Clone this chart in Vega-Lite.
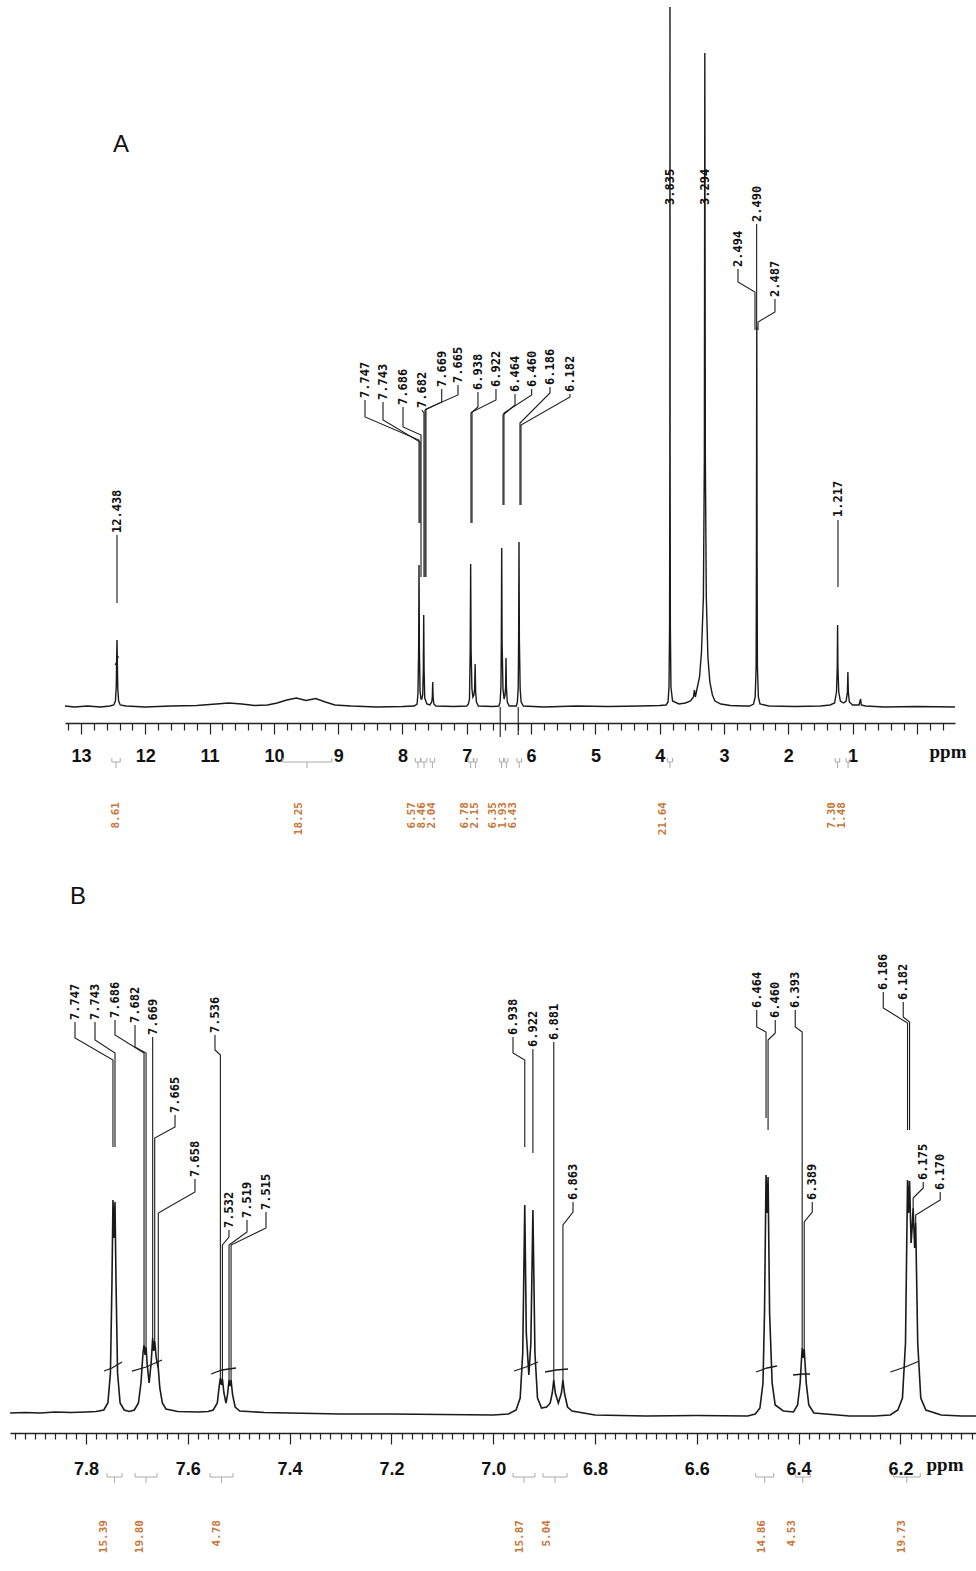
{
"$schema": "https://vega.github.io/schema/vega-lite/v6.json",
"padding": 0,
"spacing": 5,
"background": "white",
"config": {"view": {"stroke": null}},
"resolve": {"scale": {"x": "independent", "y": "independent"}},
"datasets": {
"specA": [
{"ppm":13.249,"v":1},{"ppm":13.1,"v":0},{"ppm":12.9,"v":1},{"ppm":12.7,"v":0},{"ppm":12.55,"v":1},{"ppm":12.49,"v":2},{"ppm":12.465,"v":6},{"ppm":12.452,"v":20},{"ppm":12.445,"v":50},{"ppm":12.44,"v":67},{"ppm":12.435,"v":45},{"ppm":12.428,"v":18},{"ppm":12.415,"v":6},{"ppm":12.39,"v":2},{"ppm":12.3,"v":1},{"ppm":12.0,"v":0},{"ppm":11.6,"v":1},{"ppm":11.2,"v":1.5},{"ppm":10.9,"v":3},{"ppm":10.7,"v":4},{"ppm":10.5,"v":3},{"ppm":10.3,"v":1.5},{"ppm":10.1,"v":2},{"ppm":9.95,"v":4},{"ppm":9.8,"v":7},{"ppm":9.65,"v":9},{"ppm":9.5,"v":6.5},{"ppm":9.35,"v":8.5},{"ppm":9.2,"v":5},{"ppm":9.05,"v":2},{"ppm":8.8,"v":1},{"ppm":8.4,"v":0},{"ppm":8.0,"v":0.5},{"ppm":7.82,"v":1},{"ppm":7.773,"v":3},{"ppm":7.759,"v":14},{"ppm":7.749,"v":57},{"ppm":7.743,"v":142},{"ppm":7.737,"v":57},{"ppm":7.727,"v":16},{"ppm":7.712,"v":8},{"ppm":7.7,"v":8},{"ppm":7.686,"v":12},{"ppm":7.676,"v":37},{"ppm":7.67,"v":92},{"ppm":7.664,"v":37},{"ppm":7.654,"v":9},{"ppm":7.62,"v":3},{"ppm":7.575,"v":2},{"ppm":7.545,"v":5},{"ppm":7.536,"v":10},{"ppm":7.53,"v":25},{"ppm":7.524,"v":10},{"ppm":7.512,"v":3},{"ppm":7.48,"v":1},{"ppm":7.2,"v":0.5},{"ppm":7.0,"v":1},{"ppm":6.975,"v":3},{"ppm":6.958,"v":8},{"ppm":6.947,"v":57},{"ppm":6.94,"v":143},{"ppm":6.933,"v":57},{"ppm":6.92,"v":18},{"ppm":6.905,"v":10},{"ppm":6.89,"v":12},{"ppm":6.878,"v":18},{"ppm":6.87,"v":43},{"ppm":6.863,"v":16},{"ppm":6.85,"v":5},{"ppm":6.82,"v":1},{"ppm":6.6,"v":0.5},{"ppm":6.5,"v":1},{"ppm":6.482,"v":5},{"ppm":6.469,"v":20},{"ppm":6.463,"v":64},{"ppm":6.457,"v":159},{"ppm":6.451,"v":64},{"ppm":6.437,"v":18},{"ppm":6.42,"v":8},{"ppm":6.405,"v":12},{"ppm":6.396,"v":20},{"ppm":6.39,"v":49},{"ppm":6.384,"v":20},{"ppm":6.37,"v":5},{"ppm":6.34,"v":1},{"ppm":6.23,"v":1},{"ppm":6.213,"v":5},{"ppm":6.2,"v":20},{"ppm":6.194,"v":66},{"ppm":6.188,"v":165},{"ppm":6.182,"v":66},{"ppm":6.17,"v":18},{"ppm":6.155,"v":5},{"ppm":6.12,"v":1},{"ppm":5.8,"v":0},{"ppm":5.3,"v":1},{"ppm":4.8,"v":0.5},{"ppm":4.3,"v":1},{"ppm":4.0,"v":1.5},{"ppm":3.9,"v":2},{"ppm":3.87,"v":5},{"ppm":3.855,"v":20},{"ppm":3.846,"v":80},{"ppm":3.842,"v":250},{"ppm":3.84,"v":700},{"ppm":3.838,"v":250},{"ppm":3.834,"v":80},{"ppm":3.825,"v":20},{"ppm":3.8,"v":6},{"ppm":3.7,"v":3},{"ppm":3.6,"v":4},{"ppm":3.52,"v":6},{"ppm":3.475,"v":10},{"ppm":3.46,"v":17},{"ppm":3.445,"v":10},{"ppm":3.42,"v":18},{"ppm":3.38,"v":30},{"ppm":3.35,"v":55},{"ppm":3.32,"v":110},{"ppm":3.305,"v":250},{"ppm":3.298,"v":654},{"ppm":3.29,"v":250},{"ppm":3.275,"v":110},{"ppm":3.25,"v":50},{"ppm":3.22,"v":25},{"ppm":3.18,"v":12},{"ppm":3.14,"v":6},{"ppm":3.05,"v":3},{"ppm":2.9,"v":1.5},{"ppm":2.7,"v":1},{"ppm":2.6,"v":1},{"ppm":2.54,"v":3},{"ppm":2.515,"v":10},{"ppm":2.5,"v":40},{"ppm":2.495,"v":150},{"ppm":2.49,"v":380},{"ppm":2.485,"v":150},{"ppm":2.48,"v":40},{"ppm":2.465,"v":10},{"ppm":2.44,"v":3},{"ppm":2.3,"v":1},{"ppm":1.9,"v":0.5},{"ppm":1.5,"v":1},{"ppm":1.35,"v":2},{"ppm":1.28,"v":4},{"ppm":1.25,"v":15},{"ppm":1.238,"v":40},{"ppm":1.233,"v":82},{"ppm":1.228,"v":40},{"ppm":1.215,"v":15},{"ppm":1.19,"v":6},{"ppm":1.14,"v":4},{"ppm":1.1,"v":6},{"ppm":1.08,"v":15},{"ppm":1.073,"v":35},{"ppm":1.066,"v":15},{"ppm":1.05,"v":5},{"ppm":1.0,"v":2},{"ppm":0.9,"v":2},{"ppm":0.875,"v":8},{"ppm":0.865,"v":2},{"ppm":0.8,"v":1},{"ppm":0.5,"v":0},{"ppm":0.0,"v":0.5},{"ppm":-0.593,"v":0}
],
"specB": [
{"ppm":7.949,"v":0},{"ppm":7.92,"v":0.5},{"ppm":7.89,"v":0},{"ppm":7.86,"v":1},{"ppm":7.83,"v":0.5},{"ppm":7.8,"v":1},{"ppm":7.78,"v":1.5},{"ppm":7.765,"v":3},{"ppm":7.757,"v":10},{"ppm":7.752,"v":40},{"ppm":7.749,"v":130},{"ppm":7.747,"v":213},{"ppm":7.745,"v":175},{"ppm":7.743,"v":211},{"ppm":7.741,"v":130},{"ppm":7.738,"v":40},{"ppm":7.733,"v":10},{"ppm":7.725,"v":3},{"ppm":7.715,"v":1.5},{"ppm":7.705,"v":3},{"ppm":7.697,"v":10},{"ppm":7.692,"v":30},{"ppm":7.688,"v":60},{"ppm":7.686,"v":68},{"ppm":7.684,"v":58},{"ppm":7.682,"v":66},{"ppm":7.68,"v":50},{"ppm":7.676,"v":30},{"ppm":7.672,"v":50},{"ppm":7.669,"v":75},{"ppm":7.667,"v":62},{"ppm":7.665,"v":72},{"ppm":7.662,"v":55},{"ppm":7.658,"v":45},{"ppm":7.655,"v":25},{"ppm":7.65,"v":10},{"ppm":7.643,"v":4},{"ppm":7.62,"v":1.5},{"ppm":7.58,"v":1},{"ppm":7.56,"v":1.5},{"ppm":7.55,"v":3},{"ppm":7.542,"v":10},{"ppm":7.538,"v":28},{"ppm":7.536,"v":35},{"ppm":7.534,"v":28},{"ppm":7.532,"v":34},{"ppm":7.529,"v":20},{"ppm":7.525,"v":10},{"ppm":7.522,"v":18},{"ppm":7.519,"v":33},{"ppm":7.517,"v":27},{"ppm":7.515,"v":33},{"ppm":7.512,"v":18},{"ppm":7.507,"v":6},{"ppm":7.498,"v":2},{"ppm":7.45,"v":0.5},{"ppm":7.4,"v":0},{"ppm":7.3,"v":-1},{"ppm":7.2,"v":-1},{"ppm":7.1,"v":-1.5},{"ppm":7.0,"v":-2},{"ppm":6.97,"v":-1},{"ppm":6.955,"v":3},{"ppm":6.947,"v":15},{"ppm":6.942,"v":60},{"ppm":6.938,"v":208},{"ppm":6.935,"v":80},{"ppm":6.93,"v":38},{"ppm":6.926,"v":70},{"ppm":6.922,"v":203},{"ppm":6.918,"v":60},{"ppm":6.913,"v":15},{"ppm":6.905,"v":5},{"ppm":6.895,"v":6},{"ppm":6.888,"v":10},{"ppm":6.884,"v":20},{"ppm":6.881,"v":33},{"ppm":6.878,"v":20},{"ppm":6.872,"v":10},{"ppm":6.866,"v":20},{"ppm":6.863,"v":33},{"ppm":6.86,"v":20},{"ppm":6.854,"v":6},{"ppm":6.845,"v":2},{"ppm":6.8,"v":-2},{"ppm":6.7,"v":-3},{"ppm":6.6,"v":-2.5},{"ppm":6.5,"v":-3},{"ppm":6.485,"v":-1},{"ppm":6.476,"v":5},{"ppm":6.47,"v":30},{"ppm":6.467,"v":100},{"ppm":6.464,"v":238},{"ppm":6.462,"v":200},{"ppm":6.46,"v":236},{"ppm":6.457,"v":100},{"ppm":6.452,"v":30},{"ppm":6.446,"v":8},{"ppm":6.43,"v":2},{"ppm":6.41,"v":1},{"ppm":6.402,"v":8},{"ppm":6.397,"v":30},{"ppm":6.393,"v":65},{"ppm":6.391,"v":55},{"ppm":6.389,"v":64},{"ppm":6.385,"v":30},{"ppm":6.38,"v":8},{"ppm":6.37,"v":0},{"ppm":6.3,"v":-3},{"ppm":6.25,"v":-3},{"ppm":6.22,"v":-2},{"ppm":6.205,"v":3},{"ppm":6.196,"v":15},{"ppm":6.19,"v":70},{"ppm":6.186,"v":233},{"ppm":6.184,"v":200},{"ppm":6.182,"v":232},{"ppm":6.179,"v":170},{"ppm":6.177,"v":185},{"ppm":6.175,"v":205},{"ppm":6.172,"v":165},{"ppm":6.17,"v":190},{"ppm":6.166,"v":70},{"ppm":6.16,"v":15},{"ppm":6.15,"v":3},{"ppm":6.12,"v":-2},{"ppm":6.08,"v":-3},{"ppm":6.0515,"v":-3}
],
"labA": [
{"ppm":12.44,"v":174,"t":"12.438"},{"ppm":8.583,"v":309,"t":"7.747"},{"ppm":8.303,"v":307,"t":"7.743"},{"ppm":7.992,"v":302,"t":"7.686"},{"ppm":7.701,"v":299,"t":"7.682"},{"ppm":7.39,"v":320,"t":"7.669"},{"ppm":7.137,"v":324,"t":"7.665"},{"ppm":6.826,"v":317,"t":"6.938"},{"ppm":6.546,"v":320,"t":"6.922"},{"ppm":6.25,"v":315,"t":"6.464"},{"ppm":5.991,"v":320,"t":"6.460"},{"ppm":5.706,"v":322,"t":"6.186"},{"ppm":5.395,"v":315,"t":"6.182"},{"ppm":3.84,"v":502,"t":"3.835"},{"ppm":3.295,"v":502,"t":"3.294"},{"ppm":2.492,"v":485,"t":"2.490"},{"ppm":2.782,"v":440,"t":"2.494"},{"ppm":2.207,"v":410,"t":"2.487"},{"ppm":1.227,"v":190,"t":"1.217"}
],
"leadA": [
{"id":"a1","k":1,"ppm":12.44,"v":172},{"id":"a1","k":2,"ppm":12.44,"v":104},
{"id":"a2","k":1,"ppm":8.583,"v":307},{"id":"a2","k":2,"ppm":8.583,"v":290},{"id":"a2","k":3,"ppm":7.743,"v":267},{"id":"a2","k":4,"ppm":7.743,"v":184},
{"id":"a3","k":1,"ppm":8.303,"v":305},{"id":"a3","k":2,"ppm":8.303,"v":287},{"id":"a3","k":3,"ppm":7.727,"v":265},{"id":"a3","k":4,"ppm":7.727,"v":184},
{"id":"a4","k":1,"ppm":7.992,"v":300},{"id":"a4","k":2,"ppm":7.992,"v":280},{"id":"a4","k":3,"ppm":7.712,"v":272},{"id":"a4","k":4,"ppm":7.712,"v":130},
{"id":"a5","k":1,"ppm":7.701,"v":297},{"id":"a5","k":2,"ppm":7.666,"v":294},{"id":"a5","k":3,"ppm":7.666,"v":130},
{"id":"a6","k":1,"ppm":7.39,"v":318},{"id":"a6","k":2,"ppm":7.39,"v":305},{"id":"a6","k":3,"ppm":7.65,"v":297},{"id":"a6","k":4,"ppm":7.65,"v":130},
{"id":"a7","k":1,"ppm":7.137,"v":322},{"id":"a7","k":2,"ppm":7.137,"v":312},{"id":"a7","k":3,"ppm":7.635,"v":298},{"id":"a7","k":4,"ppm":7.635,"v":130},
{"id":"a8","k":1,"ppm":6.826,"v":315},{"id":"a8","k":2,"ppm":6.826,"v":300},{"id":"a8","k":3,"ppm":6.935,"v":294},{"id":"a8","k":4,"ppm":6.935,"v":184},
{"id":"a9","k":1,"ppm":6.546,"v":318},{"id":"a9","k":2,"ppm":6.546,"v":307},{"id":"a9","k":3,"ppm":6.919,"v":295},{"id":"a9","k":4,"ppm":6.919,"v":184},
{"id":"a10","k":1,"ppm":6.25,"v":313},{"id":"a10","k":2,"ppm":6.25,"v":302},{"id":"a10","k":3,"ppm":6.437,"v":292},{"id":"a10","k":4,"ppm":6.437,"v":202},
{"id":"a11","k":1,"ppm":5.991,"v":318},{"id":"a11","k":2,"ppm":5.991,"v":312},{"id":"a11","k":3,"ppm":6.422,"v":294},{"id":"a11","k":4,"ppm":6.422,"v":202},
{"id":"a12","k":1,"ppm":5.706,"v":320},{"id":"a12","k":2,"ppm":5.706,"v":314},{"id":"a12","k":3,"ppm":6.173,"v":284},{"id":"a12","k":4,"ppm":6.173,"v":202},
{"id":"a13","k":1,"ppm":5.395,"v":313},{"id":"a13","k":2,"ppm":5.395,"v":310},{"id":"a13","k":3,"ppm":6.157,"v":282},{"id":"a13","k":4,"ppm":6.157,"v":202},
{"id":"a14","k":1,"ppm":2.492,"v":483},{"id":"a14","k":2,"ppm":2.492,"v":377},
{"id":"a15","k":1,"ppm":2.782,"v":438},{"id":"a15","k":2,"ppm":2.782,"v":425},{"id":"a15","k":3,"ppm":2.518,"v":415},{"id":"a15","k":4,"ppm":2.518,"v":377},
{"id":"a16","k":1,"ppm":2.207,"v":408},{"id":"a16","k":2,"ppm":2.207,"v":395},{"id":"a16","k":3,"ppm":2.471,"v":385},{"id":"a16","k":4,"ppm":2.471,"v":377},
{"id":"a17","k":1,"ppm":1.227,"v":187},{"id":"a17","k":2,"ppm":1.227,"v":120},
{"id":"a18","k":1,"ppm":6.48,"v":0},{"id":"a18","k":2,"ppm":6.48,"v":-30},
{"id":"a19","k":1,"ppm":6.2,"v":0},{"id":"a19","k":2,"ppm":6.2,"v":-28}
],
"curA": [
{"id":"c1","k":1,"ppm":12.47,"v":42},{"id":"c1","k":2,"ppm":12.445,"v":45},{"id":"c1","k":3,"ppm":12.42,"v":51}
],
"intA": [
{"ppm":12.456,"t":"8.61"},{"ppm":9.61,"t":"18.25"},{"ppm":7.852,"t":"6.57"},{"ppm":7.697,"t":"8.46"},{"ppm":7.541,"t":"2.04"},{"ppm":7.028,"t":"6.78"},{"ppm":6.872,"t":"2.15"},{"ppm":6.593,"t":"6.35"},{"ppm":6.437,"t":"1.93"},{"ppm":6.282,"t":"6.43"},{"ppm":3.949,"t":"21.64"},{"ppm":1.32,"t":"7.30"},{"ppm":1.165,"t":"1.48"}
],
"brA": [
{"from":12.52,"to":12.39,"mid":12.455},{"from":9.87,"to":9.1,"mid":9.485},{"from":7.8,"to":7.72,"mid":7.76},{"from":7.71,"to":7.62,"mid":7.665},{"from":7.57,"to":7.5,"mid":7.535},{"from":6.98,"to":6.9,"mid":6.94},{"from":6.89,"to":6.84,"mid":6.865},{"from":6.49,"to":6.43,"mid":6.46},{"from":6.41,"to":6.36,"mid":6.385},{"from":6.22,"to":6.15,"mid":6.185},{"from":3.88,"to":3.8,"mid":3.84},{"from":1.27,"to":1.2,"mid":1.235},{"from":1.1,"to":1.04,"mid":1.07}
],
"labB": [
{"ppm":7.8216,"v":393,"t":"7.747"},{"ppm":7.7823,"v":393,"t":"7.743"},{"ppm":7.743,"v":395,"t":"7.686"},{"ppm":7.7037,"v":390,"t":"7.682"},{"ppm":7.669,"v":378,"t":"7.669"},{"ppm":7.6251,"v":300,"t":"7.665"},{"ppm":7.5859,"v":236,"t":"7.658"},{"ppm":7.5466,"v":380,"t":"7.536"},{"ppm":7.5191,"v":185,"t":"7.532"},{"ppm":7.4837,"v":195,"t":"7.519"},{"ppm":7.4464,"v":203,"t":"7.515"},{"ppm":6.9611,"v":378,"t":"6.938"},{"ppm":6.922,"v":366,"t":"6.922"},{"ppm":6.881,"v":373,"t":"6.881"},{"ppm":6.8432,"v":213,"t":"6.863"},{"ppm":6.4823,"v":405,"t":"6.464"},{"ppm":6.4459,"v":395,"t":"6.460"},{"ppm":6.4066,"v":405,"t":"6.393"},{"ppm":6.3732,"v":213,"t":"6.389"},{"ppm":6.2337,"v":423,"t":"6.186"},{"ppm":6.1945,"v":413,"t":"6.182"},{"ppm":6.1552,"v":233,"t":"6.175"},{"ppm":6.1218,"v":223,"t":"6.170"}
],
"leadB": [
{"id":"b1","k":1,"ppm":7.8216,"v":391},{"id":"b1","k":2,"ppm":7.8216,"v":375},{"id":"b1","k":3,"ppm":7.747,"v":353},{"id":"b1","k":4,"ppm":7.747,"v":266},
{"id":"b2","k":1,"ppm":7.7823,"v":391},{"id":"b2","k":2,"ppm":7.7823,"v":373},{"id":"b2","k":3,"ppm":7.743,"v":360},{"id":"b2","k":4,"ppm":7.743,"v":266},
{"id":"b3","k":1,"ppm":7.743,"v":393},{"id":"b3","k":2,"ppm":7.743,"v":378},{"id":"b3","k":3,"ppm":7.686,"v":360},{"id":"b3","k":4,"ppm":7.686,"v":68},
{"id":"b4","k":1,"ppm":7.7037,"v":388},{"id":"b4","k":2,"ppm":7.7037,"v":366},{"id":"b4","k":3,"ppm":7.682,"v":360},{"id":"b4","k":4,"ppm":7.682,"v":66},
{"id":"b5","k":1,"ppm":7.669,"v":376},{"id":"b5","k":2,"ppm":7.669,"v":75},
{"id":"b6","k":1,"ppm":7.6251,"v":298},{"id":"b6","k":2,"ppm":7.6251,"v":286},{"id":"b6","k":3,"ppm":7.665,"v":275},{"id":"b6","k":4,"ppm":7.665,"v":72},
{"id":"b7","k":1,"ppm":7.5859,"v":234},{"id":"b7","k":2,"ppm":7.5859,"v":221},{"id":"b7","k":3,"ppm":7.658,"v":200},{"id":"b7","k":4,"ppm":7.658,"v":45},
{"id":"b8","k":1,"ppm":7.5466,"v":378},{"id":"b8","k":2,"ppm":7.5466,"v":363},{"id":"b8","k":3,"ppm":7.536,"v":358},{"id":"b8","k":4,"ppm":7.536,"v":35},
{"id":"b9","k":1,"ppm":7.5191,"v":183},{"id":"b9","k":2,"ppm":7.5191,"v":176},{"id":"b9","k":3,"ppm":7.532,"v":168},{"id":"b9","k":4,"ppm":7.532,"v":34},
{"id":"b10","k":1,"ppm":7.4837,"v":193},{"id":"b10","k":2,"ppm":7.4837,"v":181},{"id":"b10","k":3,"ppm":7.519,"v":168},{"id":"b10","k":4,"ppm":7.519,"v":33},
{"id":"b11","k":1,"ppm":7.4464,"v":201},{"id":"b11","k":2,"ppm":7.4464,"v":185},{"id":"b11","k":3,"ppm":7.515,"v":168},{"id":"b11","k":4,"ppm":7.515,"v":33},
{"id":"b12","k":1,"ppm":6.9611,"v":376},{"id":"b12","k":2,"ppm":6.9611,"v":360},{"id":"b12","k":3,"ppm":6.938,"v":353},{"id":"b12","k":4,"ppm":6.938,"v":266},
{"id":"b13","k":1,"ppm":6.922,"v":364},{"id":"b13","k":2,"ppm":6.922,"v":260},
{"id":"b14","k":1,"ppm":6.881,"v":371},{"id":"b14","k":2,"ppm":6.881,"v":33},
{"id":"b15","k":1,"ppm":6.8432,"v":211},{"id":"b15","k":2,"ppm":6.8432,"v":201},{"id":"b15","k":3,"ppm":6.863,"v":188},{"id":"b15","k":4,"ppm":6.863,"v":33},
{"id":"b16","k":1,"ppm":6.4823,"v":403},{"id":"b16","k":2,"ppm":6.4823,"v":386},{"id":"b16","k":3,"ppm":6.464,"v":381},{"id":"b16","k":4,"ppm":6.464,"v":295},
{"id":"b17","k":1,"ppm":6.4459,"v":393},{"id":"b17","k":2,"ppm":6.4459,"v":380},{"id":"b17","k":3,"ppm":6.46,"v":373},{"id":"b17","k":4,"ppm":6.46,"v":283},
{"id":"b18","k":1,"ppm":6.4066,"v":403},{"id":"b18","k":2,"ppm":6.4066,"v":386},{"id":"b18","k":3,"ppm":6.393,"v":381},{"id":"b18","k":4,"ppm":6.393,"v":65},
{"id":"b19","k":1,"ppm":6.3732,"v":211},{"id":"b19","k":2,"ppm":6.3732,"v":201},{"id":"b19","k":3,"ppm":6.389,"v":191},{"id":"b19","k":4,"ppm":6.389,"v":64},
{"id":"b20","k":1,"ppm":6.2337,"v":421},{"id":"b20","k":2,"ppm":6.2337,"v":405},{"id":"b20","k":3,"ppm":6.186,"v":390},{"id":"b20","k":4,"ppm":6.186,"v":283},
{"id":"b21","k":1,"ppm":6.1945,"v":411},{"id":"b21","k":2,"ppm":6.1945,"v":396},{"id":"b21","k":3,"ppm":6.182,"v":391},{"id":"b21","k":4,"ppm":6.182,"v":283},
{"id":"b22","k":1,"ppm":6.1552,"v":231},{"id":"b22","k":2,"ppm":6.1552,"v":225},{"id":"b22","k":3,"ppm":6.175,"v":215},{"id":"b22","k":4,"ppm":6.175,"v":205},
{"id":"b23","k":1,"ppm":6.1218,"v":221},{"id":"b23","k":2,"ppm":6.1218,"v":213},{"id":"b23","k":3,"ppm":6.17,"v":198},{"id":"b23","k":4,"ppm":6.17,"v":190}
],
"curB": [
{"id":"d1","k":1,"ppm":7.7646,"v":42},{"id":"d1","k":2,"ppm":7.7489,"v":45},{"id":"d1","k":3,"ppm":7.7293,"v":51},
{"id":"d2","k":1,"ppm":7.7096,"v":42},{"id":"d2","k":2,"ppm":7.6821,"v":46},{"id":"d2","k":3,"ppm":7.6507,"v":53},
{"id":"d3","k":1,"ppm":7.5544,"v":39},{"id":"d3","k":2,"ppm":7.5328,"v":43},{"id":"d3","k":3,"ppm":7.5053,"v":45},
{"id":"d4","k":1,"ppm":6.9591,"v":42},{"id":"d4","k":2,"ppm":6.9355,"v":46},{"id":"d4","k":3,"ppm":6.912,"v":51},
{"id":"d5","k":1,"ppm":6.8982,"v":41},{"id":"d5","k":2,"ppm":6.8766,"v":43},{"id":"d5","k":3,"ppm":6.853,"v":44},
{"id":"d6","k":1,"ppm":6.4837,"v":41},{"id":"d6","k":2,"ppm":6.4621,"v":45},{"id":"d6","k":3,"ppm":6.4425,"v":47},
{"id":"d7","k":1,"ppm":6.411,"v":38},{"id":"d7","k":2,"ppm":6.3914,"v":39},{"id":"d7","k":3,"ppm":6.3776,"v":39},
{"id":"d8","k":1,"ppm":6.2199,"v":41},{"id":"d8","k":2,"ppm":6.1905,"v":46},{"id":"d8","k":3,"ppm":6.163,"v":52}
],
"intB": [
{"ppm":7.7646,"t":"15.39"},{"ppm":7.6939,"t":"19.80"},{"ppm":7.5426,"t":"4.78"},{"ppm":6.9474,"t":"15.87"},{"ppm":6.8943,"t":"5.04"},{"ppm":6.4719,"t":"14.86"},{"ppm":6.413,"t":"4.53"},{"ppm":6.1969,"t":"19.73"}
],
"brB": [
{"from":7.7587,"to":7.7293,"mid":7.744},{"from":7.7037,"to":7.6605,"mid":7.6821},{"from":7.5564,"to":7.5112,"mid":7.5338},{"from":6.9611,"to":6.9179,"mid":6.9395},{"from":6.9022,"to":6.855,"mid":6.8786},{"from":6.4843,"to":6.4489,"mid":6.4666},{"from":6.4066,"to":6.3771,"mid":6.3919},{"from":6.214,"to":6.161,"mid":6.1875}
]
},
"vconcat": [
{
"width": 976, "height": 845,
"layer": [
{"data": {"name": "specA"}, "mark": {"type": "line", "color": "#1a1a1a", "strokeWidth": 1.4},
 "encoding": {
  "x": {"field": "ppm", "type": "quantitative", "scale": {"domain": [13.249, -0.593], "range": [65, 955], "nice": false, "zero": false},
   "axis": {"title": null, "orient": "bottom", "offset": -122, "grid": false, "tickCount": 500,
    "values": [13.2,13,12.8,12.6,12.4,12.2,12,11.8,11.6,11.4,11.2,11,10.8,10.6,10.4,10.2,10,9.8,9.6,9.4,9.2,9,8.8,8.6,8.4,8.2,8,7.8,7.6,7.4,7.2,7,6.8,6.6,6.4,6.2,6,5.8,5.6,5.4,5.2,5,4.8,4.6,4.4,4.2,4,3.8,3.6,3.4,3.2,3,2.8,2.6,2.4,2.2,2,1.8,1.6,1.4,1.2,1,0.8,0.6,0.4,0.2,0,-0.2,-0.4],
    "labelExpr": "(abs(datum.value - round(datum.value)) < 0.001 && datum.value > 0.5) ? format(datum.value, 'd') : ''",
    "labelFont": "Liberation Sans", "labelFontWeight": "bold", "labelFontSize": 18, "labelColor": "#111", "labelPadding": 13, "labelOverlap": false, "labelFlush": false,
    "tickSize": {"condition": {"test": "abs(datum.value - round(datum.value)) < 0.001", "value": 11}, "value": 7},
    "tickColor": "#222", "tickWidth": 1.2, "domainColor": "#222", "domainWidth": 1.5}},
  "y": {"field": "v", "type": "quantitative", "scale": {"domain": [-138, 707], "nice": false, "zero": false}, "axis": null}
 }},
{"data": {"name": "leadA"}, "mark": {"type": "line", "color": "#1a1a1a", "strokeWidth": 1.1},
 "encoding": {"x": {"field": "ppm", "type": "quantitative"}, "y": {"field": "v", "type": "quantitative"}, "detail": {"field": "id"}, "order": {"field": "k"}}},
{"data": {"name": "curA"}, "mark": {"type": "line", "color": "#1a1a1a", "strokeWidth": 1.1},
 "encoding": {"x": {"field": "ppm", "type": "quantitative"}, "y": {"field": "v", "type": "quantitative"}, "detail": {"field": "id"}, "order": {"field": "k"}}},
{"data": {"name": "labA"}, "mark": {"type": "text", "angle": 270, "align": "left", "baseline": "middle", "font": "DejaVu Sans Mono", "fontWeight": "bold", "fontSize": 12, "color": "#111"},
 "encoding": {"x": {"field": "ppm", "type": "quantitative"}, "y": {"field": "v", "type": "quantitative"}, "text": {"field": "t"}}},
{"data": {"name": "intA"}, "mark": {"type": "text", "angle": 270, "align": "right", "baseline": "middle", "font": "DejaVu Sans Mono", "fontWeight": "bold", "fontSize": 11, "color": "#c8773a"},
 "encoding": {"x": {"field": "ppm", "type": "quantitative"}, "y": {"datum": -95, "type": "quantitative"}, "text": {"field": "t"}}},
{"data": {"name": "brA"}, "mark": {"type": "rule", "color": "#aaaaaa", "strokeWidth": 1},
 "encoding": {"x": {"field": "from", "type": "quantitative"}, "x2": {"field": "to"}, "y": {"datum": -55, "type": "quantitative"}}},
{"data": {"name": "brA"}, "mark": {"type": "rule", "color": "#aaaaaa", "strokeWidth": 1},
 "encoding": {"x": {"field": "from", "type": "quantitative"}, "y": {"datum": -55, "type": "quantitative"}, "y2": {"datum": -51}}},
{"data": {"name": "brA"}, "mark": {"type": "rule", "color": "#aaaaaa", "strokeWidth": 1},
 "encoding": {"x": {"field": "to", "type": "quantitative"}, "y": {"datum": -55, "type": "quantitative"}, "y2": {"datum": -51}}},
{"data": {"name": "brA"}, "mark": {"type": "rule", "color": "#aaaaaa", "strokeWidth": 1},
 "encoding": {"x": {"field": "mid", "type": "quantitative"}, "y": {"datum": -55, "type": "quantitative"}, "y2": {"datum": -61}}},
{"data": {"values": [{"t": "A"}]}, "mark": {"type": "text", "font": "Liberation Sans", "fontSize": 24, "color": "#111", "align": "center", "baseline": "middle"},
 "encoding": {"x": {"datum": 12.378, "type": "quantitative"}, "y": {"datum": 562, "type": "quantitative"}, "text": {"field": "t"}}},
{"data": {"values": [{"t": "ppm"}]}, "mark": {"type": "text", "font": "Liberation Serif", "fontWeight": "bold", "fontSize": 19, "color": "#111", "align": "center", "baseline": "middle"},
 "encoding": {"x": {"datum": -0.484, "type": "quantitative"}, "y": {"datum": -45, "type": "quantitative"}, "text": {"field": "t"}}}
]
},
{
"width": 976, "height": 721,
"layer": [
{"data": {"name": "specB"}, "mark": {"type": "line", "color": "#1a1a1a", "strokeWidth": 1.6},
 "encoding": {
  "x": {"field": "ppm", "type": "quantitative", "scale": {"domain": [7.9493, 6.0515], "range": [10, 976], "nice": false, "zero": false},
   "axis": {"title": null, "orient": "bottom", "offset": -138, "grid": false, "tickCount": 500,
    "values": [7.94,7.92,7.90,7.88,7.86,7.84,7.82,7.80,7.78,7.76,7.74,7.72,7.70,7.68,7.66,7.64,7.62,7.60,7.58,7.56,7.54,7.52,7.50,7.48,7.46,7.44,7.42,7.40,7.38,7.36,7.34,7.32,7.30,7.28,7.26,7.24,7.22,7.20,7.18,7.16,7.14,7.12,7.10,7.08,7.06,7.04,7.02,7.00,6.98,6.96,6.94,6.92,6.90,6.88,6.86,6.84,6.82,6.80,6.78,6.76,6.74,6.72,6.70,6.68,6.66,6.64,6.62,6.60,6.58,6.56,6.54,6.52,6.50,6.48,6.46,6.44,6.42,6.40,6.38,6.36,6.34,6.32,6.30,6.28,6.26,6.24,6.22,6.20,6.18,6.16,6.14,6.12,6.10,6.08,6.06],
    "labelExpr": "abs(datum.value * 5 - round(datum.value * 5)) < 0.001 ? format(datum.value, '.1f') : ''",
    "labelFont": "Liberation Sans", "labelFontWeight": "bold", "labelFontSize": 18, "labelColor": "#111", "labelPadding": 16, "labelOverlap": false, "labelFlush": false,
    "tickSize": {"condition": {"test": "abs(datum.value * 5 - round(datum.value * 5)) < 0.001", "value": 11}, "value": 6},
    "tickColor": "#222", "tickWidth": 1.2, "domainColor": "#222", "domainWidth": 1.5}},
  "y": {"field": "v", "type": "quantitative", "scale": {"domain": [-158, 563], "nice": false, "zero": false}, "axis": null}
 }},
{"data": {"name": "leadB"}, "mark": {"type": "line", "color": "#1a1a1a", "strokeWidth": 1.1},
 "encoding": {"x": {"field": "ppm", "type": "quantitative"}, "y": {"field": "v", "type": "quantitative"}, "detail": {"field": "id"}, "order": {"field": "k"}}},
{"data": {"name": "curB"}, "mark": {"type": "line", "color": "#1a1a1a", "strokeWidth": 1.3},
 "encoding": {"x": {"field": "ppm", "type": "quantitative"}, "y": {"field": "v", "type": "quantitative"}, "detail": {"field": "id"}, "order": {"field": "k"}}},
{"data": {"name": "labB"}, "mark": {"type": "text", "angle": 270, "align": "left", "baseline": "middle", "font": "DejaVu Sans Mono", "fontWeight": "bold", "fontSize": 12, "color": "#111"},
 "encoding": {"x": {"field": "ppm", "type": "quantitative"}, "y": {"field": "v", "type": "quantitative"}, "text": {"field": "t"}}},
{"data": {"name": "intB"}, "mark": {"type": "text", "angle": 270, "align": "right", "baseline": "middle", "font": "DejaVu Sans Mono", "fontWeight": "bold", "fontSize": 11, "color": "#c8773a"},
 "encoding": {"x": {"field": "ppm", "type": "quantitative"}, "y": {"datum": -107, "type": "quantitative"}, "text": {"field": "t"}}},
{"data": {"name": "brB"}, "mark": {"type": "rule", "color": "#aaaaaa", "strokeWidth": 1},
 "encoding": {"x": {"field": "from", "type": "quantitative"}, "x2": {"field": "to"}, "y": {"datum": -64, "type": "quantitative"}}},
{"data": {"name": "brB"}, "mark": {"type": "rule", "color": "#aaaaaa", "strokeWidth": 1},
 "encoding": {"x": {"field": "from", "type": "quantitative"}, "y": {"datum": -64, "type": "quantitative"}, "y2": {"datum": -60}}},
{"data": {"name": "brB"}, "mark": {"type": "rule", "color": "#aaaaaa", "strokeWidth": 1},
 "encoding": {"x": {"field": "to", "type": "quantitative"}, "y": {"datum": -64, "type": "quantitative"}, "y2": {"datum": -60}}},
{"data": {"name": "brB"}, "mark": {"type": "rule", "color": "#aaaaaa", "strokeWidth": 1},
 "encoding": {"x": {"field": "mid", "type": "quantitative"}, "y": {"datum": -64, "type": "quantitative"}, "y2": {"datum": -70}}},
{"data": {"values": [{"t": "B"}]}, "mark": {"type": "text", "font": "Liberation Sans", "fontSize": 24, "color": "#111", "align": "center", "baseline": "middle"},
 "encoding": {"x": {"datum": 7.8157, "type": "quantitative"}, "y": {"datum": 516, "type": "quantitative"}, "text": {"field": "t"}}},
{"data": {"values": [{"t": "ppm"}]}, "mark": {"type": "text", "font": "Liberation Serif", "fontWeight": "bold", "fontSize": 19, "color": "#111", "align": "center", "baseline": "middle"},
 "encoding": {"x": {"datum": 6.1124, "type": "quantitative"}, "y": {"datum": -52, "type": "quantitative"}, "text": {"field": "t"}}}
]
}
]
}
